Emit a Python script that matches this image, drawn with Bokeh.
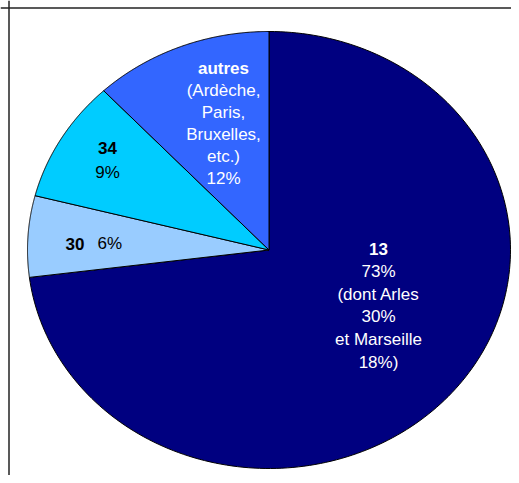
import numpy as np
from bokeh.plotting import figure
from bokeh.models import Range1d, Span, ColumnDataSource
from bokeh.core.properties import value
from bokeh.embed import file_html
from bokeh.resources import INLINE

# ---- data ----
categories = ["13", "30", "34", "autres"]
shares = [73, 6, 9, 12]
colors = ["#000080", "#99CCFF", "#00CCFF", "#3366FF"]
label_titles = ["13", "30", "34", "autres"]
label_details = [
    ["73%", "(dont Arles", "30%", "et Marseille", "18%)"],
    ["6%"],
    ["9%"],
    ["(Ardèche,", "Paris,", "Bruxelles,", "etc.)", "12%"],
]
text_colors = ["white", "black", "black", "white"]

# ---- layout (pie is drawn as unit circle, stretched by unequal scales) ----
W, H = 511, 475
cx_px, cy_px, rx_px, ry_px = 268.5, 249.5, 241.5, 218.5   # picture pixels
ox, oy = 0, 0
x0 = (ox - cx_px) / rx_px
x1 = (ox + W - cx_px) / rx_px
y0 = (cy_px - (oy + H)) / ry_px
y1 = (cy_px - oy) / ry_px

p = figure(width=W, height=H, output_backend="svg", toolbar_location=None,
           x_range=Range1d(x0, x1), y_range=Range1d(y0, y1),
           min_border=0, outline_line_color=None)
p.axis.visible = False
p.grid.visible = False
p.background_fill_color = "white"
p.border_fill_color = "white"

# slices, clockwise from 12 o'clock
total = float(sum(shares))
cum = np.concatenate([[0.0], np.cumsum(shares) / total])
xs, ys = [], []
for i in range(len(shares)):
    t = np.linspace(cum[i], cum[i + 1], 200)
    th = np.pi / 2 - 2 * np.pi * t
    xs.append(np.concatenate([[0.0], np.cos(th), [0.0]]))
    ys.append(np.concatenate([[0.0], np.sin(th), [0.0]]))
src = ColumnDataSource(dict(xs=xs, ys=ys, color=colors, cat=categories))
p.patches("xs", "ys", source=src, fill_color="color", line_color="black", line_width=1)

def px2d(x, y):
    return (x - cx_px) / rx_px, (cy_px - y) / ry_px

# frame lines (top and left)
bx, by = px2d(8.5, 7.5)
p.add_layout(Span(location=bx, dimension="height", line_color="#222222", line_width=1.5))
p.add_layout(Span(location=by, dimension="width", line_color="#222222", line_width=1.5))

FONT = value("Liberation Sans")
FS = "17px"
# anchors in picture pixels for the first line of each label block
anchors = {"13": (378, 248, 22.8), "34": (107, 147, 25), "autres": (223, 68, 22)}
for i, cat in enumerate(categories):
    if cat == "30":
        continue
    ax, ay, step = anchors[cat]
    dx, dy = px2d(ax, ay)
    p.text(x=[dx], y=[dy], text=[label_titles[i]], text_font=FONT, text_font_size=FS,
           text_font_style="bold", text_color=text_colors[i], text_align="center",
           text_baseline="middle")
    for j, line in enumerate(label_details[i]):
        p.text(x=[dx], y=[dy], text=[line], text_font=FONT, text_font_size=FS,
               text_color=text_colors[i], text_align="center", text_baseline="middle",
               y_offset=step * (j + 1))

# "30  6%" on one line
i30 = categories.index("30")
dx, dy = px2d(90, 243)
p.text(x=[dx], y=[dy], text=[label_titles[i30]], text_font=FONT, text_font_size=FS,
       text_font_style="bold", text_color=text_colors[i30], text_align="right",
       text_baseline="middle", x_offset=-6)
p.text(x=[dx], y=[dy], text=[label_details[i30][0]], text_font=FONT, text_font_size=FS,
       text_color=text_colors[i30], text_align="left", text_baseline="middle", x_offset=7)

open("out.html", "w").write(file_html(p, INLINE))
